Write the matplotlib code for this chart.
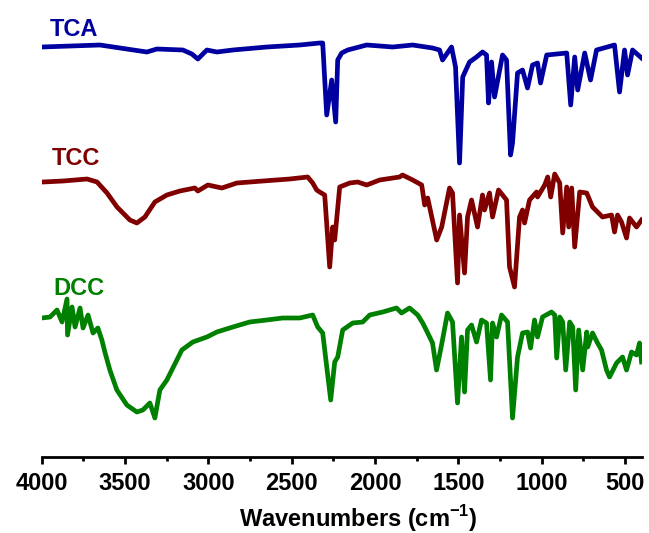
import numpy as np
import matplotlib
matplotlib.use('Agg')
import matplotlib.pyplot as plt
from matplotlib.ticker import MultipleLocator

plt.rcParams['font.family'] = ['Liberation Sans', 'DejaVu Sans']
plt.rcParams['font.weight'] = 'bold'
plt.rcParams['mathtext.fontset'] = 'custom'
plt.rcParams['mathtext.rm'] = 'Liberation Sans:bold'
plt.rcParams['mathtext.bf'] = 'Liberation Sans:bold'

# FTIR spectra (wavenumber, stacked transmittance a.u.)
tca_wn = [4000, 3651, 3369, 3309, 3153, 3099, 3063, 3009, 2949, 2853, 2649, 2452, 2332, 2314,
          2290, 2260, 2236, 2224, 2200, 2164, 2050, 1894, 1774, 1655, 1613, 1595, 1541, 1517,
          1493, 1474, 1433, 1391, 1355, 1331, 1319, 1301, 1283, 1235, 1211, 1187, 1175, 1145,
          1115, 1085, 1055, 1025, 1007, 970, 850, 826, 802, 784, 742, 707, 671, 563, 533, 503,
          485, 455, 401]
tca_t = [41.0, 41.2, 40.5, 40.8, 40.7, 40.3, 39.8, 40.7, 40.5, 40.7, 41.0, 41.2, 41.4, 41.4,
         34.2, 37.7, 33.5, 39.7, 40.4, 40.7, 41.2, 41.0, 41.2, 40.9, 40.7, 39.7, 41.0, 39.0,
         29.4, 38.0, 39.5, 40.0, 40.5, 40.2, 35.4, 39.5, 36.0, 40.2, 39.7, 30.2, 31.4, 38.4,
         38.7, 36.9, 39.2, 39.4, 37.4, 40.2, 40.4, 35.2, 40.0, 36.7, 40.4, 37.7, 40.7, 41.2,
         36.5, 40.7, 38.2, 40.7, 39.9]

tcc_wn = [3992, 3872, 3728, 3668, 3608, 3548, 3471, 3429, 3381, 3321, 3249, 3171, 3081, 3063,
          3003, 2919, 2829, 2673, 2512, 2404, 2374, 2350, 2332, 2302, 2272, 2254, 2242, 2212,
          2152, 2104, 2050, 1972, 1853, 1835, 1774, 1720, 1702, 1684, 1630, 1600, 1553, 1535,
          1505, 1493, 1463, 1445, 1421, 1385, 1355, 1343, 1313, 1295, 1259, 1211, 1193, 1163,
          1133, 1115, 1103, 1073, 1031, 1025, 982, 964, 946, 922, 892, 874, 850, 838, 820, 802,
          772, 730, 695, 635, 581, 563, 545, 521, 491, 473, 431, 401]
tcc_t = [27.5, 27.6, 27.8, 27.5, 26.4, 25.0, 23.7, 23.4, 24.0, 25.5, 26.2, 26.6, 26.9, 26.6,
         27.2, 26.9, 27.4, 27.6, 27.8, 28.0, 27.4, 26.7, 26.5, 26.2, 19.0, 23.0, 21.7, 27.0,
         27.4, 27.5, 27.2, 27.7, 28.0, 28.2, 27.7, 27.2, 25.2, 25.9, 21.7, 23.0, 26.9, 26.4,
         17.4, 24.2, 18.4, 24.0, 25.7, 23.0, 26.2, 24.7, 26.4, 24.0, 26.7, 25.7, 19.0, 17.0,
         24.0, 24.7, 23.4, 25.7, 26.5, 26.0, 27.2, 28.0, 26.0, 28.3, 27.4, 22.4, 27.0, 23.0,
         26.9, 21.0, 26.5, 26.4, 25.0, 24.0, 24.2, 22.5, 24.2, 23.5, 21.9, 23.9, 23.0, 23.7]

dcc_wn = [4000, 3950, 3908, 3878, 3848, 3845, 3818, 3800, 3770, 3752, 3722, 3692, 3663, 3639,
          3621, 3591, 3549, 3489, 3429, 3393, 3351, 3321, 3291, 3249, 3213, 3159, 3093, 3009,
          2949, 2853, 2752, 2650, 2554, 2452, 2374, 2344, 2314, 2266, 2242, 2224, 2194, 2134,
          2074, 2032, 1954, 1871, 1841, 1793, 1744, 1714, 1684, 1655, 1631, 1601, 1565, 1535,
          1505, 1481, 1463, 1445, 1421, 1391, 1361, 1331, 1307, 1295, 1271, 1241, 1205, 1175,
          1145, 1115, 1085, 1067, 1043, 1025, 995, 941, 922, 910, 892, 874, 856, 832, 814, 796,
          778, 754, 730, 724, 695, 665, 641, 611, 593, 551, 515, 491, 461, 431, 413, 401]
dcc_t = [13.9, 14.0, 14.7, 13.5, 15.8, 12.2, 15.0, 13.0, 14.9, 12.9, 14.2, 12.4, 12.9, 11.7,
         10.5, 8.7, 6.7, 5.2, 4.5, 4.7, 5.4, 3.9, 6.7, 7.7, 8.9, 10.7, 11.5, 12.0,
         12.5, 13.0, 13.5, 13.7, 13.9, 13.9, 14.2, 13.0, 12.4, 5.7, 9.5, 10.0, 12.7, 13.4,
         13.5, 14.2, 14.5, 14.9, 14.4, 14.9, 14.2, 13.4, 12.4, 11.4, 8.7, 11.2, 14.4, 13.5,
         5.4, 12.0, 6.5, 12.7, 13.2, 11.5, 13.7, 13.4, 7.7, 13.4, 12.0, 14.2, 13.5, 3.9,
         10.0, 12.4, 12.5, 10.9, 13.7, 12.0, 14.0, 14.5, 14.2, 9.9, 14.0, 13.5, 8.7, 13.5, 13.0, 6.7,
         12.7, 8.7, 12.5, 11.0, 12.4, 11.4, 10.7, 8.7, 8.0, 9.4, 10.0, 8.7, 10.5, 10.2, 11.4, 9.5]

names = ['TCA', 'TCC', 'DCC']
colors = ['#0000a0', '#800000', '#008000']

fig = plt.figure(figsize=(6.49, 5.33), dpi=100)
ax = fig.add_axes([41.7/649, 1 - 457/533, 600/649, 457/533])

ax.plot(tca_wn, tca_t, color=colors[0], lw=3.4, solid_joinstyle='round')
ax.plot(tcc_wn, tcc_t, color=colors[1], lw=3.4, solid_joinstyle='round')
ax.plot(dcc_wn, dcc_t, color=colors[2], lw=3.4, solid_joinstyle='round')

# sample names above each trace
label_pos = [(0.014, 0.921), (0.017, 0.639), (0.019, 0.354)]
for name, c, (lx, ly) in zip(names, colors, label_pos):
    ax.text(lx, ly, name, color=c, fontsize=17, fontweight='bold',
            transform=ax.transAxes, ha='left', va='baseline')

ax.set_xlim(4000, 400)
ax.set_ylim(0, 45.7)
ax.xaxis.set_major_locator(MultipleLocator(500))
ax.xaxis.set_minor_locator(MultipleLocator(250))
for s in ['left', 'right', 'top']:
    ax.spines[s].set_visible(False)
ax.spines['bottom'].set_linewidth(2)
ax.set_yticks([])
ax.tick_params(axis='x', which='major', length=5, width=2, labelsize=17, pad=6)
ax.tick_params(axis='x', which='minor', length=3, width=2)
for t in ax.get_xticklabels():
    t.set_fontweight('bold')

ax.set_xlabel(r'Wavenumbers (cm$^{\mathbf{-1}}$)', fontsize=17, fontweight='bold')
ax.xaxis.set_label_coords(0.527, -0.153)
ax.xaxis.label.set_va('baseline')

fig.savefig('out.png', dpi=100)
